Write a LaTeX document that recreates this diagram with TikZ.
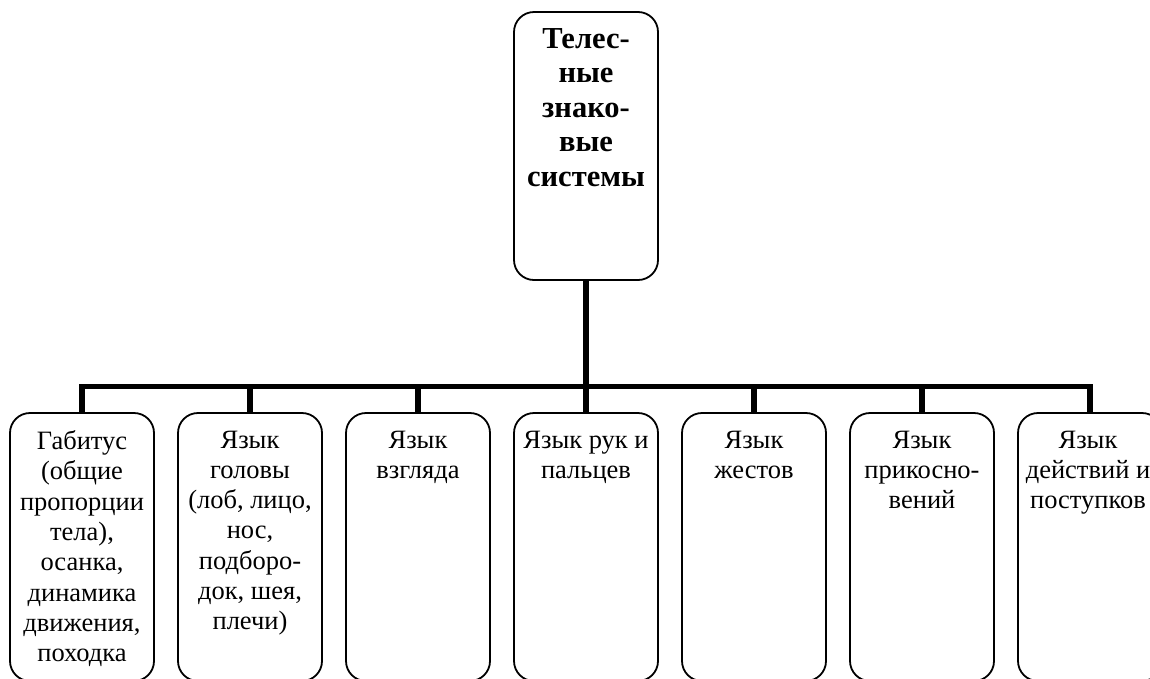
\documentclass[tikz,border=0pt]{standalone}
\usepackage{fontspec}
\setmainfont{Liberation Serif}
\begin{document}
\begin{tikzpicture}[x=1pt,y=-1pt,
  box/.style={draw=black, line width=1.8pt, rounded corners=20pt, minimum width=144pt, minimum height=268pt, inner sep=0pt},
  toptext/.style={anchor=north, inner sep=0pt, align=center, font=\fontsize{30.5}{34.6}\selectfont\bfseries},
  subtext/.style={anchor=north, inner sep=0pt, align=center, font=\fontsize{26.5}{30.3}\selectfont},
  conn/.style={line width=5.5pt}]
\useasboundingbox (0,0) rectangle (1150,678);
\clip (0,0) rectangle (1150,678);
% top box
\node[box] (top) at (586,146) {};
\node[toptext] (toplbl) at (586,28) {Телес-\\ные\\знако-\\вые\\системы};
% bottom boxes
\node[box] (b1) at (82,547) {};
\node[box] (b2) at (250,547) {};
\node[box] (b3) at (418,547) {};
\node[box] (b4) at (586,547) {};
\node[box] (b5) at (754,547) {};
\node[box] (b6) at (922,547) {};
\node[box] (b7) at (1090,547) {};
\node[subtext] (t1) at (82,430.5) {Габитус\\(общие\\пропорции\\тела),\\осанка,\\динамика\\движения,\\походка};
\node[subtext] (t2) at (250,430.5) {Язык\\головы\\(лоб, лицо,\\нос,\\подборо-\\док, шея,\\плечи)};
\node[subtext] (t3) at (418,430.5) {Язык\\взгляда};
\node[subtext] (t4) at (586,430.5) {Язык рук и\\пальцев};
\node[subtext] (t5) at (754,430.5) {Язык\\жестов};
\node[subtext] (t6) at (922,430.5) {Язык\\прикосно-\\вений};
\node[subtext] (t7) at (1088,430.5) {Язык\\действий и\\поступков};
% connectors
\coordinate (hub) at (586,386.5);
\draw[conn] (top.south) -- (hub);
\draw[conn, line cap=rect] (b1.north |- hub) -- (b7.north |- hub);
\foreach \b in {b1,b2,b3,b4,b5,b6,b7}{
  \draw[conn] (\b.north |- hub) -- (\b.north);
}
\end{tikzpicture}
\end{document}
